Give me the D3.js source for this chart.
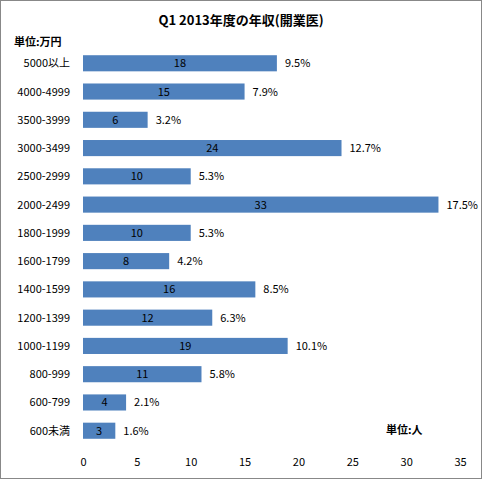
<!DOCTYPE html><html><head><meta charset="utf-8"><script src="https://cdn.jsdelivr.net/npm/d3@7"></script>
<style>body{margin:0;background:#fff}</style></head><body><svg id="c" width="483" height="480"></svg>
<script>
const categories=["5000以上","4000-4999","3500-3999","3000-3499","2500-2999","2000-2499","1800-1999","1600-1799","1400-1599","1200-1399","1000-1199","800-999","600-799","600未満"];
const counts=[18,15,6,24,10,33,10,8,16,12,19,11,4,3];
const percents=["9.5%","7.9%","3.2%","12.7%","5.3%","17.5%","5.3%","4.2%","8.5%","6.3%","10.1%","5.8%","2.1%","1.6%"];
const ticks=[0,5,10,15,20,25,30,35];
const svg=d3.select("#c");
const font="'Noto Sans CJK JP', 'Liberation Sans', sans-serif";
svg.append("rect").attr("x",0.5).attr("y",0.5).attr("width",481).attr("height",478).attr("fill","#fff").attr("stroke","#888");
const x=d3.scaleLinear().domain([0,35]).range([83,460]);
const y=d3.scaleBand().domain(categories).range([49,445]).paddingInner(0.43).paddingOuter(0.22);
svg.append("text").attr("x",241).attr("y",25).attr("text-anchor","middle").attr("font-family",font).attr("font-weight","bold").attr("font-size",13).text("Q1  2013年度の年収(開業医)");
svg.append("text").attr("x",14).attr("y",46).attr("font-family",font).attr("font-weight","bold").attr("font-size",11).text("単位:万円");
svg.append("text").attr("x",386).attr("y",434).attr("font-family",font).attr("font-weight","bold").attr("font-size",11).text("単位:人");
const g=svg.append("g");
g.selectAll("rect.b").data(categories).join("rect").attr("class","b").attr("x",x(0)).attr("y",d=>y(d)).attr("width",(d,i)=>x(counts[i])-x(0)).attr("height",y.bandwidth()).attr("fill","#4f81bd");
g.selectAll("text.v").data(categories).join("text").attr("class","v").attr("x",(d,i)=>(x(0)+x(counts[i]))/2).attr("y",d=>y(d)+y.bandwidth()/2+4).attr("text-anchor","middle").attr("font-family",font).attr("font-size",11).text((d,i)=>counts[i]);
g.selectAll("text.p").data(categories).join("text").attr("class","p").attr("x",(d,i)=>x(counts[i])+8).attr("y",d=>y(d)+y.bandwidth()/2+4).attr("font-family",font).attr("font-size",11).text((d,i)=>percents[i]);
g.selectAll("text.c").data(categories).join("text").attr("class","c").attr("x",70).attr("y",d=>y(d)+y.bandwidth()/2+4).attr("text-anchor","end").attr("font-family",font).attr("font-size",11).text(d=>d);
const ax=svg.append("g").attr("transform","translate(0,450)").call(d3.axisBottom(x).tickValues(ticks).tickSize(0).tickPadding(8));
ax.select(".domain").remove();
ax.selectAll("text").attr("font-family",font).attr("font-size",11).attr("fill","#000");
</script></body></html>
